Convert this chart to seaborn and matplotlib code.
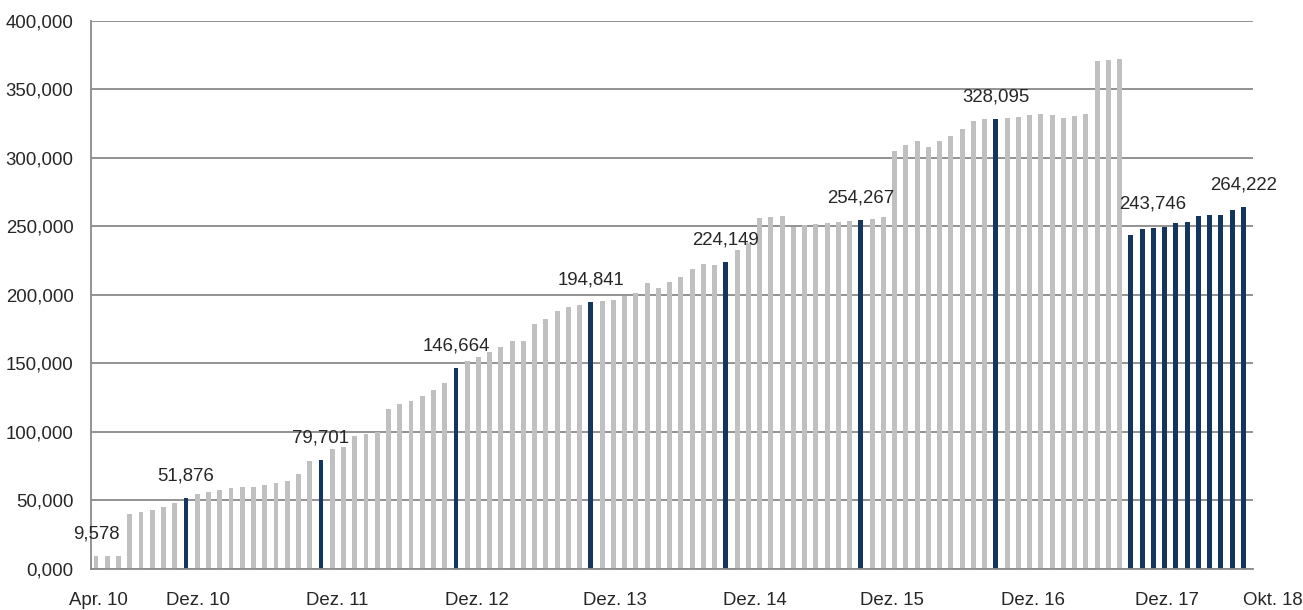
import numpy as np
import pandas as pd
import seaborn as sns
import matplotlib.pyplot as plt
import matplotlib.transforms as mtransforms
from matplotlib.ticker import FuncFormatter

# monthly values Apr. 10 .. Okt. 18 (103 months)
values = [
    9578, 9580, 9600, 40100, 41600, 43100, 45300, 48000, 51876,
    54500, 56000, 57700, 59400, 59600, 60000, 61500, 63000, 64000, 69000, 78800, 79701,
    87300, 88800, 97000, 98500, 99700, 116800, 120200, 122600, 126300, 130700, 135800, 146664,
    151800, 154700, 158200, 162300, 166400, 166400, 178800, 182500, 188300, 191000, 192700, 194841,
    195400, 196400, 199500, 201000, 208500, 204800, 209500, 213100, 219000, 222200, 221800, 224149,
    232700, 237800, 255800, 256600, 257500, 249700, 250700, 251800, 252400, 253100, 254100, 254267,
    255200, 256900, 305100, 309000, 312200, 307800, 312200, 315600, 321000, 327000, 328200, 328095,
    329200, 329700, 330900, 332100, 331200, 328700, 330400, 331900, 370300, 371300, 372000, 243746,
    248200, 248900, 249600, 252600, 253300, 257700, 258400, 258400, 261800, 264222,
]
# dark bars: every December and the last year
dark_months = [8, 20, 32, 44, 56, 68, 80] + list(range(92, 103))
labelled_months = [0, 8, 20, 32, 44, 56, 68, 80, 92, 102]

tick_labels = ["Apr. 10", "Dez. 10", "Dez. 11", "Dez. 12", "Dez. 13",
               "Dez. 14", "Dez. 15", "Dez. 16", "Dez. 17", "Okt. 18"]
tick_pos = [0.2, 9.1, 21.4, 33.9, 46.1, 58.6, 70.8, 83.3, 95.2, 104.6]

df = pd.DataFrame({"month": np.arange(len(values)), "value": values})

sns.set_style("white")
plt.rcParams["font.family"] = ["Liberation Sans", "DejaVu Sans"]

fig = plt.figure(figsize=(13.03, 6.10), dpi=100)
ax = fig.add_axes([0.0698, 0.0672, 0.8918, 0.8989])

sns.barplot(data=df, x="month", y="value", color="#C0C0C0", saturation=1,
            width=0.44, ax=ax)
# recolour the highlighted months
for i, bar in enumerate(ax.patches):
    if i in dark_months:
        bar.set_facecolor("#14365E")
    bar.set_edgecolor("none")

ax.set_ylim(0, 400000)
ax.set_xlim(-0.45, 102.85)
ax.set_yticks(np.arange(0, 400001, 50000))
ax.yaxis.set_major_formatter(FuncFormatter(lambda v, p: f"{int(v / 1000)},000"))
ax.grid(axis="y", color="#8A8A8A", linewidth=1.3)
ax.set_axisbelow(True)
ax.tick_params(axis="y", length=4, width=1.3, color="#8A8A8A", labelsize=13.4, pad=8.5)
ax.set_xticks([])
ax.set_xlabel("")
ax.set_ylabel("")

for s in ["top", "right"]:
    ax.spines[s].set_visible(False)
for s in ["left", "bottom"]:
    ax.spines[s].set_color("#8A8A8A")
    ax.spines[s].set_linewidth(1.3)

# x labels
trans = mtransforms.blended_transform_factory(ax.transData, ax.transAxes)
for pos, lab in zip(tick_pos, tick_labels):
    ax.text(pos, -0.057, lab, transform=trans, ha="center", va="center",
            fontsize=13.4, clip_on=False)

# value labels
for m in labelled_months:
    dx = 16 if m == 92 else 0
    dy = 22 if m == 92 else 16
    ax.annotate(f"{values[m]:,}", (m, values[m]), xytext=(dx, dy),
                textcoords="offset points", ha="center", va="center", fontsize=13.4)

fig.savefig("out.png", dpi=100)
